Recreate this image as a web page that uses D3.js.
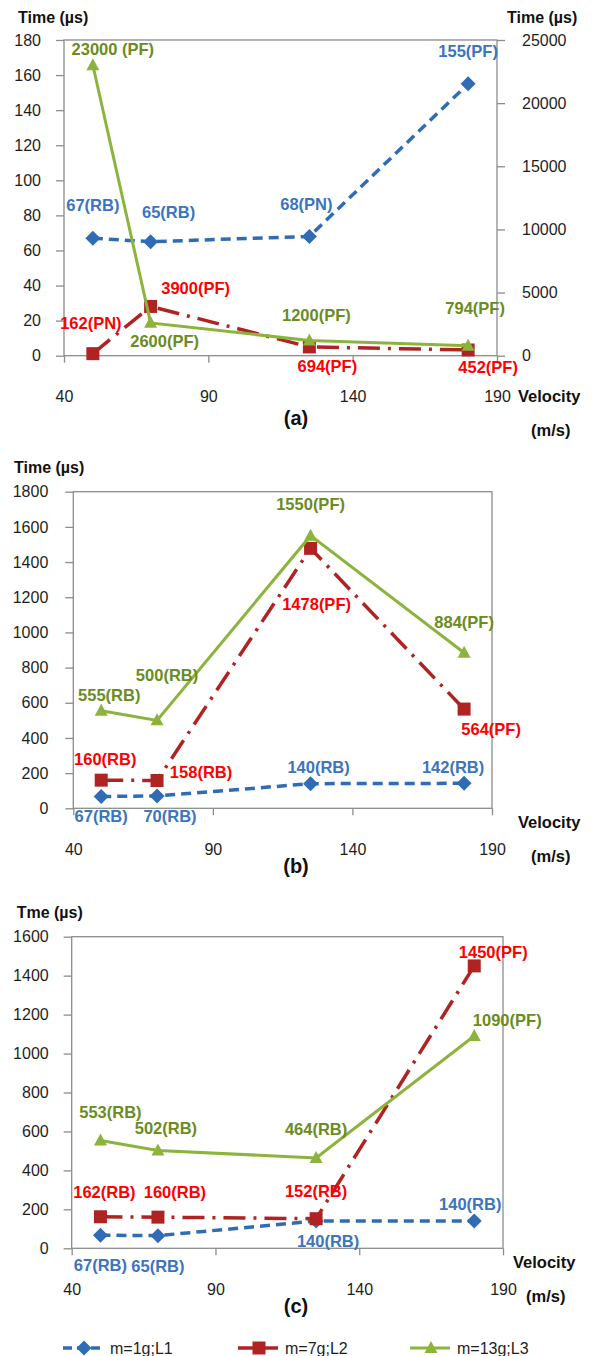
<!DOCTYPE html>
<html>
<head>
<meta charset="utf-8">
<script src="https://cdn.jsdelivr.net/npm/d3@7"></script>
<style>
  body { margin: 0; background: #fff; }
  text { font-family: "Liberation Sans", Arial, sans-serif; }
</style>
</head>
<body>
<script>
// velocity (m/s) shared by all three panels
const velocity = [50, 70, 125, 180];
const xTicks = [40, 90, 140, 190];

// panel (a): L1 on left axis, L2 and L3 on right axis
const aL1 = [67, 65, 68, 155];
const aL2 = [162, 3900, 694, 452];
const aL3 = [23000, 2600, 1200, 794];
const aL1Mode = ["(RB)", "(RB)", "(PN)", "(PF)"];
const aL2Mode = ["(PN)", "(PF)", "(PF)", "(PF)"];
const aL3Mode = [" (PF)", "(PF)", "(PF)", "(PF)"];
const aTicks = [0, 20, 40, 60, 80, 100, 120, 140, 160, 180];
const aRightTicks = [0, 5000, 10000, 15000, 20000, 25000];

// panel (b)
const bL1 = [67, 70, 140, 142];
const bL2 = [160, 158, 1478, 564];
const bL3 = [555, 500, 1550, 884];
const bL1Mode = ["(RB)", "(RB)", "(RB)", "(RB)"];
const bL2Mode = ["(RB)", "(RB)", "(PF)", "(PF)"];
const bL3Mode = ["(RB)", "(RB)", "(PF)", "(PF)"];
const bTicks = [0, 200, 400, 600, 800, 1000, 1200, 1400, 1600, 1800];

// panel (c)
const cL1 = [67, 65, 140, 140];
const cL2 = [162, 160, 152, 1450];
const cL3 = [553, 502, 464, 1090];
const cL1Mode = ["(RB)", "(RB)", "(RB)", "(RB)"];
const cL2Mode = ["(RB)", "(RB)", "(RB)", "(PF)"];
const cL3Mode = ["(RB)", "(RB)", "(RB)", "(PF)"];
const cTicks = [0, 200, 400, 600, 800, 1000, 1200, 1400, 1600];

const seriesNames = ["m=1g;L1", "m=7g;L2", "m=13g;L3"];

//colours and line looks for each series
const styles = [
  {line: "#2f6cb5", label: "#3b74c0", dash: "10,6", width: 3.5, marker: "diamond"},
  {line: "#b02323", label: "#ff0000", dash: "22,8,3,8", width: 3.5, marker: "square"},
  {line: "#8cb43c", label: "#6a8c22", dash: null, width: 3, marker: "triangle"}
];

// label offsets from each point (dx, dy to baseline)
const offsets = {
  a: [[[0,-27],[18,-24],[-3,-26],[0,-27]],
      [[-2,-25],[45,-12],[18,25],[20,23]],
      [[20,-10],[14,24],[7,-20],[7,-32]]],
  b: [[[0,25],[13,26],[8,-11],[-11,-10]],
      [[4,-15],[44,-3],[6,62],[27,26]],
      [[8,-10],[10,-39],[0,-26],[0,-25]]],
  c: [[[0,36],[0,36],[12,26],[-4,-11]],
      [[4,-19],[17,-19],[0,-22],[19,-8]],
      [[10,-23],[8,-17],[0,-23],[33,-10]]]
};

const svg = d3.select("body").append("svg")
  .attr("width", 595)
  .attr("height", 1356);

function markerPath(type){
  if(type == "diamond") return "M0,-7.5L7.5,0L0,7.5L-7.5,0Z";
  if(type == "square") return "M-6.5,-6.5H6.5V6.5H-6.5Z";
  return "M0,-7L6.5,5L-6.5,5Z";
}

function styleAxis(sel){
  sel.select(".domain").remove();
  sel.selectAll("line").attr("stroke", "#8c8c8c").attr("stroke-width", 1.3);
  sel.selectAll("text")
    .attr("font-size", "16px")
    .attr("fill", "#1e1e1e")
    .attr("font-family", "'Liberation Sans', Arial, sans-serif");
}

function drawPanel(p){
  let g = svg.append("g");
  let x = d3.scaleLinear().domain([40, 190]).range([p.x0, p.x1]);
  let y = d3.scaleLinear().domain([0, p.yMax]).range([p.yBot, p.yTop]);
  let y2 = p.y2Max ? d3.scaleLinear().domain([0, p.y2Max]).range([p.yBot, p.yTop]) : null;
  let fmt = d3.format("d");

  //frame
  g.append("rect")
    .attr("x", p.x0).attr("y", p.yTop)
    .attr("width", p.x1 - p.x0).attr("height", p.yBot - p.yTop)
    .attr("fill", "none")
    .attr("stroke", "#8c8c8c")
    .attr("stroke-width", 1.3);

  //axes
  g.append("g")
    .attr("transform", "translate(" + p.x0 + ",0)")
    .call(d3.axisLeft(y).tickValues(p.yTicks).tickFormat(fmt).tickSize(8).tickSizeOuter(0).tickPadding(p.leftPad))
    .call(styleAxis);
  g.append("g")
    .attr("transform", "translate(0," + p.yBot + ")")
    .call(d3.axisBottom(x).tickValues(xTicks).tickFormat(fmt).tickSize(7).tickSizeOuter(0).tickPadding(28))
    .call(styleAxis);
  if(y2){
    g.append("g")
      .attr("transform", "translate(" + p.x1 + ",0)")
      .call(d3.axisRight(y2).tickValues(p.y2Ticks).tickFormat(fmt).tickSize(8).tickSizeOuter(0).tickPadding(17))
      .call(styleAxis);
  }

  //lines and markers
  p.series.forEach(function(s, i){
    let sc = s.right ? y2 : y;
    let st = styles[i];
    let line = d3.line()
      .x(function(d, k){ return x(velocity[k]); })
      .y(function(d){ return sc(d); });
    g.append("path")
      .datum(s.values)
      .attr("d", line)
      .attr("fill", "none")
      .attr("stroke", st.line)
      .attr("stroke-width", st.width)
      .attr("stroke-dasharray", st.dash);
    g.selectAll(null)
      .data(s.values)
      .enter().append("path")
      .attr("d", markerPath(st.marker))
      .attr("transform", function(d, k){ return "translate(" + x(velocity[k]) + "," + sc(d) + ")"; })
      .attr("fill", st.line);
  });

  //data labels
  p.series.forEach(function(s, i){
    let sc = s.right ? y2 : y;
    g.selectAll(null)
      .data(s.values)
      .enter().append("text")
      .attr("x", function(d, k){ return x(velocity[k]) + s.off[k][0]; })
      .attr("y", function(d, k){ return sc(d) + s.off[k][1]; })
      .attr("text-anchor", "middle")
      .attr("font-size", "16.5px")
      .attr("font-weight", "bold")
      .attr("fill", styles[i].label)
      .text(function(d, k){ return d + s.mode[k]; });
  });

  //titles
  g.append("text")
    .attr("x", p.titleX).attr("y", p.titleY)
    .attr("font-size", "16px").attr("font-weight", "bold").attr("fill", "#111")
    .text(p.title);
  if(y2){
    g.append("text")
      .attr("x", 507).attr("y", p.titleY)
      .attr("font-size", "16px").attr("font-weight", "bold").attr("fill", "#111")
      .text("Time (µs)");
  }
  g.append("text")
    .attr("x", p.velX).attr("y", p.velY)
    .attr("font-size", "16.5px").attr("font-weight", "bold").attr("fill", "#111")
    .text("Velocity");
  g.append("text")
    .attr("x", p.velX + 13).attr("y", p.velY + 34)
    .attr("font-size", "16.5px").attr("font-weight", "bold").attr("fill", "#111")
    .text("(m/s)");
  g.append("text")
    .attr("x", 296).attr("y", p.capY)
    .attr("text-anchor", "middle")
    .attr("font-size", "20px").attr("font-weight", "bold").attr("fill", "#111")
    .text(p.caption);
}

drawPanel({
  x0: 64, x1: 497, yTop: 40, yBot: 355.7, yMax: 180, y2Max: 25000,
  yTicks: aTicks, y2Ticks: aRightTicks, leftPad: 15,
  title: "Time (µs)", titleX: 18, titleY: 22.7,
  velX: 518, velY: 401.7, caption: "(a)", capY: 425,
  series: [
    {values: aL1, mode: aL1Mode, off: offsets.a[0], right: false},
    {values: aL2, mode: aL2Mode, off: offsets.a[1], right: true},
    {values: aL3, mode: aL3Mode, off: offsets.a[2], right: true}
  ]
});

drawPanel({
  x0: 73.3, x1: 492, yTop: 491.7, yBot: 808.3, yMax: 1800,
  yTicks: bTicks, leftPad: 17,
  title: "Time (µs)", titleX: 14, titleY: 472.7,
  velX: 518, velY: 828, caption: "(b)", capY: 873,
  series: [
    {values: bL1, mode: bL1Mode, off: offsets.b[0]},
    {values: bL2, mode: bL2Mode, off: offsets.b[1]},
    {values: bL3, mode: bL3Mode, off: offsets.b[2]}
  ]
});

drawPanel({
  x0: 71.7, x1: 503, yTop: 936.7, yBot: 1248.3, yMax: 1600,
  yTicks: cTicks, leftPad: 15,
  title: "Tme (µs)", titleX: 16.7, titleY: 918.3,
  velX: 513, velY: 1268, caption: "(c)", capY: 1313,
  series: [
    {values: cL1, mode: cL1Mode, off: offsets.c[0]},
    {values: cL2, mode: cL2Mode, off: offsets.c[1]},
    {values: cL3, mode: cL3Mode, off: offsets.c[2]}
  ]
});

//legend
const legendX = [63, 238, 410];
const legend = svg.append("g").attr("transform", "translate(0,1348)");
seriesNames.forEach(function(name, i){
  let st = styles[i];
  legend.append("line")
    .attr("x1", legendX[i]).attr("x2", legendX[i] + 40)
    .attr("stroke", st.line)
    .attr("stroke-width", st.width)
    .attr("stroke-dasharray", i == 0 ? "9,5" : null);
  legend.append("path")
    .attr("d", markerPath(st.marker))
    .attr("transform", "translate(" + (legendX[i] + 21) + ",0)")
    .attr("fill", st.line);
  legend.append("text")
    .attr("x", legendX[i] + 47).attr("y", 5.5)
    .attr("font-size", "16px").attr("fill", "#1e1e1e")
    .text(name);
});
</script>
</body>
</html>
